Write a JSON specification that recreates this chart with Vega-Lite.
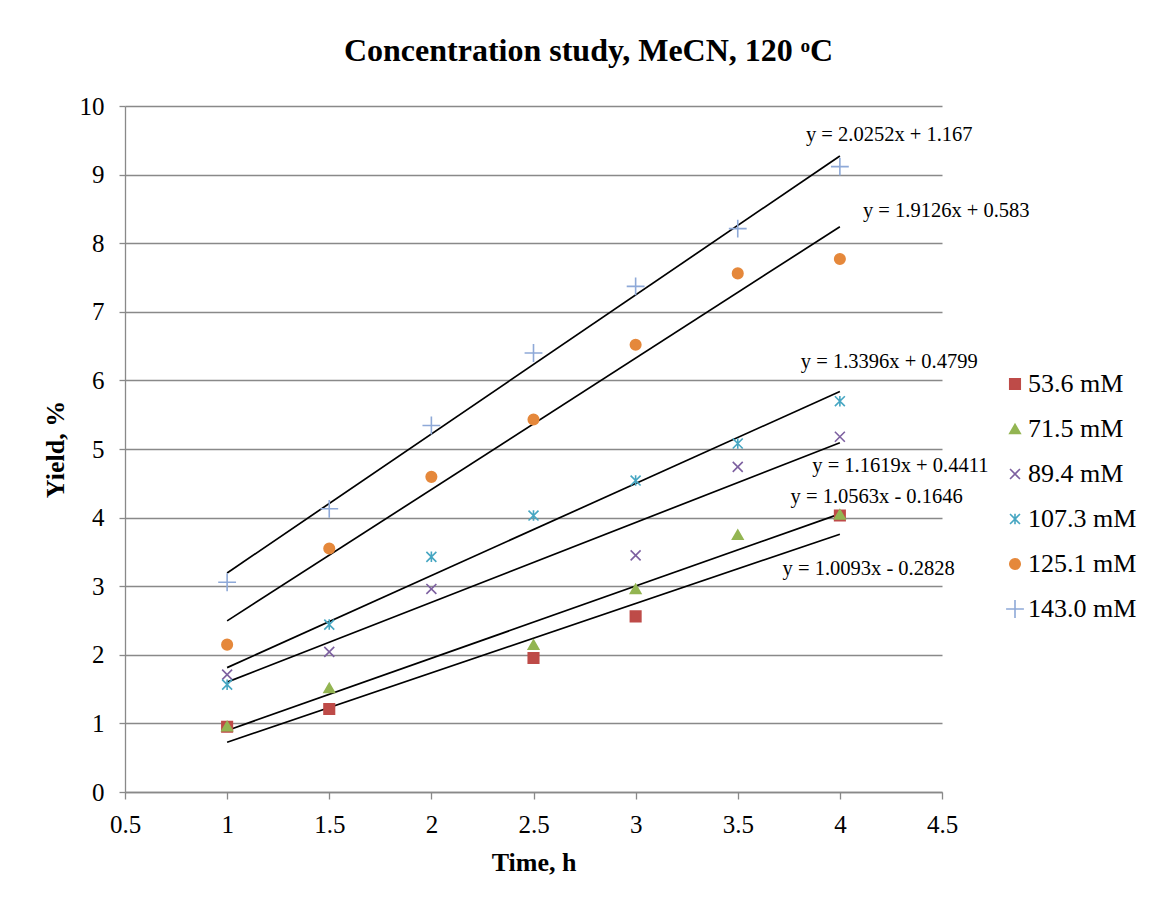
{
  "$schema": "https://vega.github.io/schema/vega-lite/v6.json",
  "width": 817,
  "height": 686,
  "autosize": {"type": "none"},
  "padding": {"left": 125, "top": 106, "right": 212, "bottom": 123},
  "background": "white",
  "title": {
    "text": "Concentration study, MeCN, 120 ᵒC",
    "font": "Liberation Serif",
    "fontSize": 32,
    "fontWeight": "bold",
    "color": "black",
    "anchor": "middle",
    "frame": "group",
    "dx": 55,
    "offset": 26
  },
  "datasets": {
    "points": [
      {"series": "53.6 mM", "time": 1, "yield": 0.95},
      {"series": "53.6 mM", "time": 1.5, "yield": 1.21},
      {"series": "53.6 mM", "time": 2.5, "yield": 1.954},
      {"series": "53.6 mM", "time": 3, "yield": 2.56},
      {"series": "53.6 mM", "time": 4, "yield": 4.03},
      {"series": "71.5 mM", "time": 1, "yield": 0.96},
      {"series": "71.5 mM", "time": 1.5, "yield": 1.517},
      {"series": "71.5 mM", "time": 2.5, "yield": 2.148},
      {"series": "71.5 mM", "time": 3, "yield": 2.96},
      {"series": "71.5 mM", "time": 3.5, "yield": 3.75},
      {"series": "71.5 mM", "time": 4, "yield": 4.045},
      {"series": "89.4 mM", "time": 1, "yield": 1.711},
      {"series": "89.4 mM", "time": 1.5, "yield": 2.042},
      {"series": "89.4 mM", "time": 2, "yield": 2.96},
      {"series": "89.4 mM", "time": 3, "yield": 3.45},
      {"series": "89.4 mM", "time": 3.5, "yield": 4.74},
      {"series": "89.4 mM", "time": 4, "yield": 5.178},
      {"series": "107.3 mM", "time": 1, "yield": 1.565},
      {"series": "107.3 mM", "time": 1.5, "yield": 2.44},
      {"series": "107.3 mM", "time": 2, "yield": 3.428},
      {"series": "107.3 mM", "time": 2.5, "yield": 4.03},
      {"series": "107.3 mM", "time": 3, "yield": 4.54},
      {"series": "107.3 mM", "time": 3.5, "yield": 5.08},
      {"series": "107.3 mM", "time": 4, "yield": 5.697},
      {"series": "125.1 mM", "time": 1, "yield": 2.148},
      {"series": "125.1 mM", "time": 1.5, "yield": 3.549},
      {"series": "125.1 mM", "time": 2, "yield": 4.594},
      {"series": "125.1 mM", "time": 2.5, "yield": 5.43},
      {"series": "125.1 mM", "time": 3, "yield": 6.52},
      {"series": "125.1 mM", "time": 3.5, "yield": 7.56},
      {"series": "125.1 mM", "time": 4, "yield": 7.77},
      {"series": "143.0 mM", "time": 1, "yield": 3.057},
      {"series": "143.0 mM", "time": 1.5, "yield": 4.128},
      {"series": "143.0 mM", "time": 2, "yield": 5.343},
      {"series": "143.0 mM", "time": 2.5, "yield": 6.4},
      {"series": "143.0 mM", "time": 3, "yield": 7.37},
      {"series": "143.0 mM", "time": 3.5, "yield": 8.212},
      {"series": "143.0 mM", "time": 4, "yield": 9.116}
    ],
    "labels": [
      {"label": "y = 2.0252x + 1.167", "time": 4.242, "yield": 9.485},
      {"label": "y = 1.9126x + 0.583", "time": 4.521, "yield": 8.378},
      {"label": "y = 1.3396x + 0.4799", "time": 4.242, "yield": 6.174},
      {"label": "y = 1.1619x + 0.4411", "time": 4.296, "yield": 4.672},
      {"label": "y = 1.0563x - 0.1646", "time": 4.18, "yield": 4.22},
      {"label": "y = 1.0093x - 0.2828", "time": 4.141, "yield": 3.17}
    ]
  },
  "encoding": {
    "x": {
      "field": "time",
      "type": "quantitative",
      "scale": {"domain": [0.5, 4.5], "nice": false, "zero": false},
      "axis": {
        "title": "Time, h",
        "values": [0.5, 1, 1.5, 2, 2.5, 3, 3.5, 4, 4.5],
        "format": "~g",
        "grid": false,
        "domainColor": "#898989",
        "domainWidth": 1.3,
        "tickColor": "#898989",
        "tickWidth": 1.3,
        "tickSize": 7,
        "labelFont": "Liberation Serif",
        "labelFontSize": 25,
        "labelColor": "black",
        "labelPadding": 13,
        "labelFlush": false,
        "labelOverlap": false,
        "titleFont": "Liberation Serif",
        "titleFontSize": 26,
        "titleFontWeight": "bold",
        "titleColor": "black",
        "titlePadding": 12
      }
    },
    "y": {
      "field": "yield",
      "type": "quantitative",
      "scale": {"domain": [0, 10], "nice": false},
      "axis": {
        "title": "Yield, %",
        "values": [0, 1, 2, 3, 4, 5, 6, 7, 8, 9, 10],
        "grid": true,
        "gridColor": "#898989",
        "gridWidth": 1.3,
        "domainColor": "#898989",
        "domainWidth": 1.3,
        "tickColor": "#898989",
        "tickWidth": 1.3,
        "tickSize": 6,
        "labelFont": "Liberation Serif",
        "labelFontSize": 25,
        "labelColor": "black",
        "labelPadding": 15,
        "labelFlush": false,
        "labelOverlap": false,
        "titleFont": "Liberation Serif",
        "titleFontSize": 26,
        "titleFontWeight": "bold",
        "titleColor": "black",
        "titlePadding": 11
      }
    }
  },
  "layer": [
    {
      "data": {"name": "points"},
      "transform": [
        {"regression": "yield", "on": "time", "groupby": ["series"], "extent": [1, 4], "method": "linear"}
      ],
      "mark": {"type": "line", "color": "black", "strokeWidth": 1.7},
      "encoding": {"detail": {"field": "series"}}
    },
    {
      "data": {"name": "points"},
      "mark": {"type": "point", "filled": true, "size": 110, "strokeWidth": 1.6, "opacity": 1},
      "encoding": {
        "shape": {
          "field": "series",
          "type": "nominal",
          "scale": {
            "domain": ["53.6 mM", "71.5 mM", "89.4 mM", "107.3 mM", "125.1 mM", "143.0 mM"],
            "range": ["square", "triangle-up", "M-0.95,-0.95L0.95,0.95M-0.95,0.95L0.95,-0.95", "M-0.95,-0.95L0.95,0.95M-0.95,0.95L0.95,-0.95M0,-1L0,1", "circle", "M-1.7,0L1.7,0M0,-1.7L0,1.7"]
          },
          "legend": {"title": null, "orient": "none", "legendX": 877, "legendY": 265}
        },
        "fill": {
          "field": "series",
          "type": "nominal",
          "scale": {
            "domain": ["53.6 mM", "71.5 mM", "89.4 mM", "107.3 mM", "125.1 mM", "143.0 mM"],
            "range": ["#BE4B48", "#93B552", "#7D60A0", "#46A6C2", "#E5883B", "#8EA9D8"]
          },
          "legend": {"title": null, "orient": "none", "legendX": 877, "legendY": 265}
        },
        "stroke": {
          "field": "series",
          "type": "nominal",
          "scale": {
            "domain": ["53.6 mM", "71.5 mM", "89.4 mM", "107.3 mM", "125.1 mM", "143.0 mM"],
            "range": ["#BE4B48", "#93B552", "#7D60A0", "#46A6C2", "#E5883B", "#8EA9D8"]
          },
          "legend": {"title": null, "orient": "none", "legendX": 877, "legendY": 265}
        }
      }
    },
    {
      "data": {"name": "labels"},
      "mark": {"type": "text", "font": "Liberation Serif", "fontSize": 20.5, "align": "center", "baseline": "alphabetic", "color": "black"},
      "encoding": {"text": {"field": "label"}}
    }
  ],
  "config": {
    "view": {"stroke": null},
    "legend": {
      "labelFont": "Liberation Serif",
      "labelFontSize": 26,
      "labelColor": "black",
      "labelOffset": 0,
      "symbolSize": 110,
      "symbolStrokeWidth": 1.6,
      "rowPadding": 19,
      "padding": 0,
      "labelLimit": 300
    }
  }
}
